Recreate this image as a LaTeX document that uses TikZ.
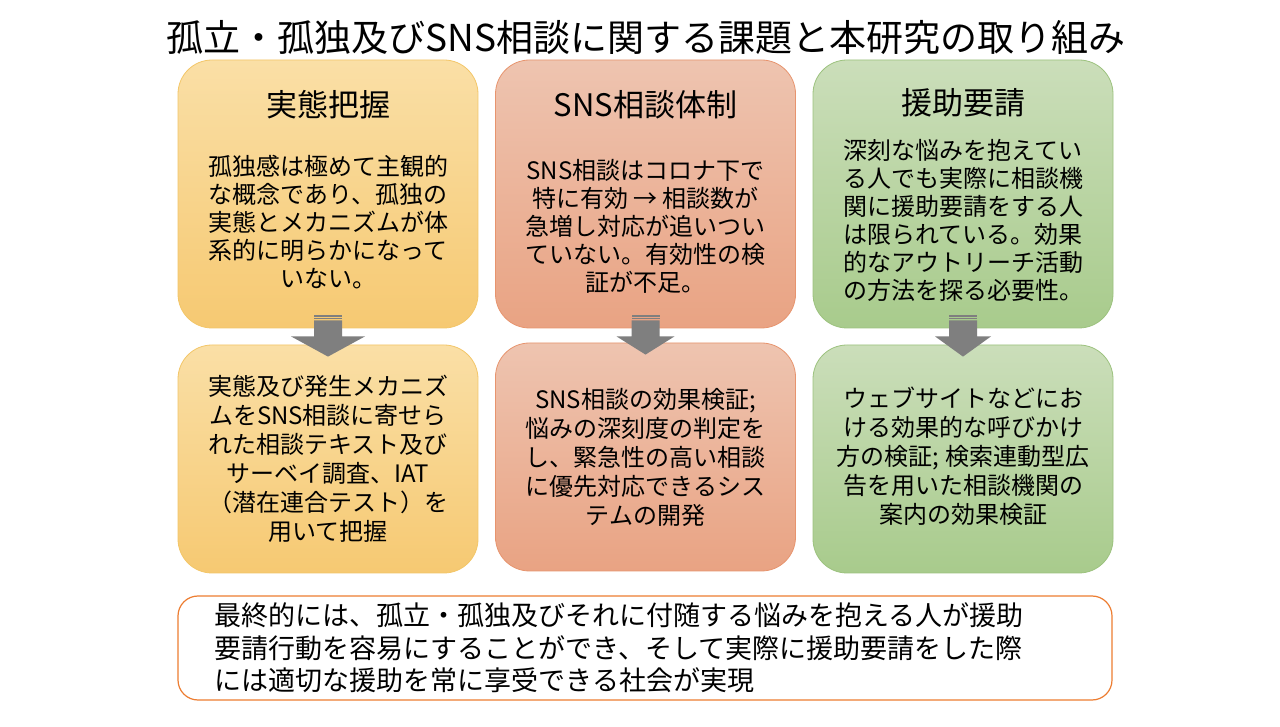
\documentclass[tikz,border=0pt]{standalone}
\usepackage{fontspec}
\setmainfont{Noto Sans CJK JP}
\usetikzlibrary{calc,positioning}
\definecolor{yelTop}{RGB}{250,223,166}
\definecolor{yelBot}{RGB}{246,201,114}
\definecolor{yelLine}{RGB}{243,198,104}
\definecolor{salTop}{RGB}{238,196,176}
\definecolor{salBot}{RGB}{233,163,131}
\definecolor{salLine}{RGB}{231,148,110}
\definecolor{grnTop}{RGB}{203,222,186}
\definecolor{grnBot}{RGB}{168,203,140}
\definecolor{grnLine}{RGB}{156,194,126}
\definecolor{arrowgray}{RGB}{127,127,127}
\definecolor{goalLine}{RGB}{237,125,49}
\tikzset{
  panel/.style={rounded corners=34pt, minimum width=300pt, line width=0.8pt},
  toppanel/.style={panel, minimum height=268pt},
  lowpanel/.style={panel, minimum height=228pt},
  yelpanel/.style={top color=yelTop, bottom color=yelBot, draw=yelLine},
  salpanel/.style={top color=salTop, bottom color=salBot, draw=salLine},
  grnpanel/.style={top color=grnTop, bottom color=grnBot, draw=grnLine},
  heading/.style={font=\fontsize{31}{36}\selectfont, inner sep=0pt},
  bodytext/.style={align=center, inner sep=0pt, font=\fontsize{24}{28}\selectfont},
  lowtext/.style={bodytext, font=\fontsize{24}{29}\selectfont},
}
% block arrow: from panel #1 down to panel #2, head half width #3
\newcommand{\grayarrow}[3]{%
  \fill[arrowgray] ($(#1.south)+(-14,13)$) rectangle ($(#1.south)+(14,11.5)$);
  \fill[arrowgray] ($(#1.south)+(-14,10.5)$) rectangle ($(#1.south)+(14,9)$);
  \fill[arrowgray] ($(#1.south)+(-14,8)$) -- ($(#1.south)+(14,8)$)
    -- ($(#1.south)+(14,-8)$) -- ($(#1.south)+(#3,-8)$)
    -- ($(#2.north)+(0,-12)$)
    -- ($(#1.south)+(-#3,-8)$) -- ($(#1.south)+(-14,-8)$) -- cycle;
}

\begin{document}
\begin{tikzpicture}[x=1pt,y=1pt]
\useasboundingbox[fill=white] (0,0) rectangle (1280,726);

\node [font=\fontsize{37}{42}\selectfont, inner sep=0pt] (title) at (646,688)
  {孤立・孤独及びSNS相談に関する課題と本研究の取り組み};

% upper row
\node [toppanel, yelpanel] (jittai) at (328,532) {};
\node [toppanel, salpanel] (sns) at (645.5,532) {};
\node [toppanel, grnpanel] (enjo) at (963,532) {};

\node [heading] (jittaihead) at ($(jittai.north)+(0,-45)$) {実態把握};
\node [heading] (snshead) at ($(sns.north)+(0,-45)$) {SNS相談体制};
\node [heading] (enjohead) at ($(enjo.north)+(0,-43)$) {援助要請};

\node [bodytext] (jittaitext) at ($(jittai.center)+(0,-28)$)
  {孤独感は極めて主観的\\な概念であり、孤独の\\実態とメカニズムが体\\系的に明らかになって\\いない。};
\node [bodytext] (snstext) at ($(sns.center)+(0,-32)$)
  {SNS相談はコロナ下で\\特に有効 → 相談数が\\急増し対応が追いつい\\ていない。有効性の検\\証が不足。};
\node [bodytext] (enjotext) at ($(enjo.center)+(0,-26)$)
  {深刻な悩みを抱えてい\\る人でも実際に相談機\\関に援助要請をする人\\は限られている。効果\\的なアウトリーチ活動\\の方法を探る必要性。};

% lower row
\node [lowpanel, yelpanel] (jittaiplan) at (328,267) {};
\node [lowpanel, salpanel] (snsplan) at (645.5,269) {};
\node [lowpanel, grnpanel] (enjoplan) at (963,267) {};

\node [lowtext] (jittaiplantext) at (jittaiplan.center)
  {実態及び発生メカニズ\\ムをSNS相談に寄せら\\れた相談テキスト及び\\サーベイ調査、IAT\\（潜在連合テスト）を\\用いて把握};
\node [lowtext] (snsplantext) at (snsplan.center)
  {SNS相談の効果検証;\\悩みの深刻度の判定を\\し、緊急性の高い相談\\に優先対応できるシス\\テムの開発};
\node [lowtext] (enjoplantext) at ($(enjoplan.center)+(0,3)$)
  {ウェブサイトなどにお\\ける効果的な呼びかけ\\方の検証; 検索連動型広\\告を用いた相談機関の\\案内の効果検証};

\grayarrow{jittai}{jittaiplan}{37}
\grayarrow{sns}{snsplan}{29}
\grayarrow{enjo}{enjoplan}{28}

% goal
\node [draw=goalLine, line width=1.2pt, fill=white, rounded corners=20pt,
  minimum width=934pt, minimum height=104pt] (goal) at (645,78) {};
\node [anchor=west, align=left, inner sep=0pt, font=\fontsize{27}{32.5}\selectfont]
  (goaltext) at ($(goal.west)+(37,0)$)
  {最終的には、孤立・孤独及びそれに付随する悩みを抱える人が援助\\要請行動を容易にすることができ、そして実際に援助要請をした際\\には適切な援助を常に享受できる社会が実現};
\end{tikzpicture}
\end{document}
